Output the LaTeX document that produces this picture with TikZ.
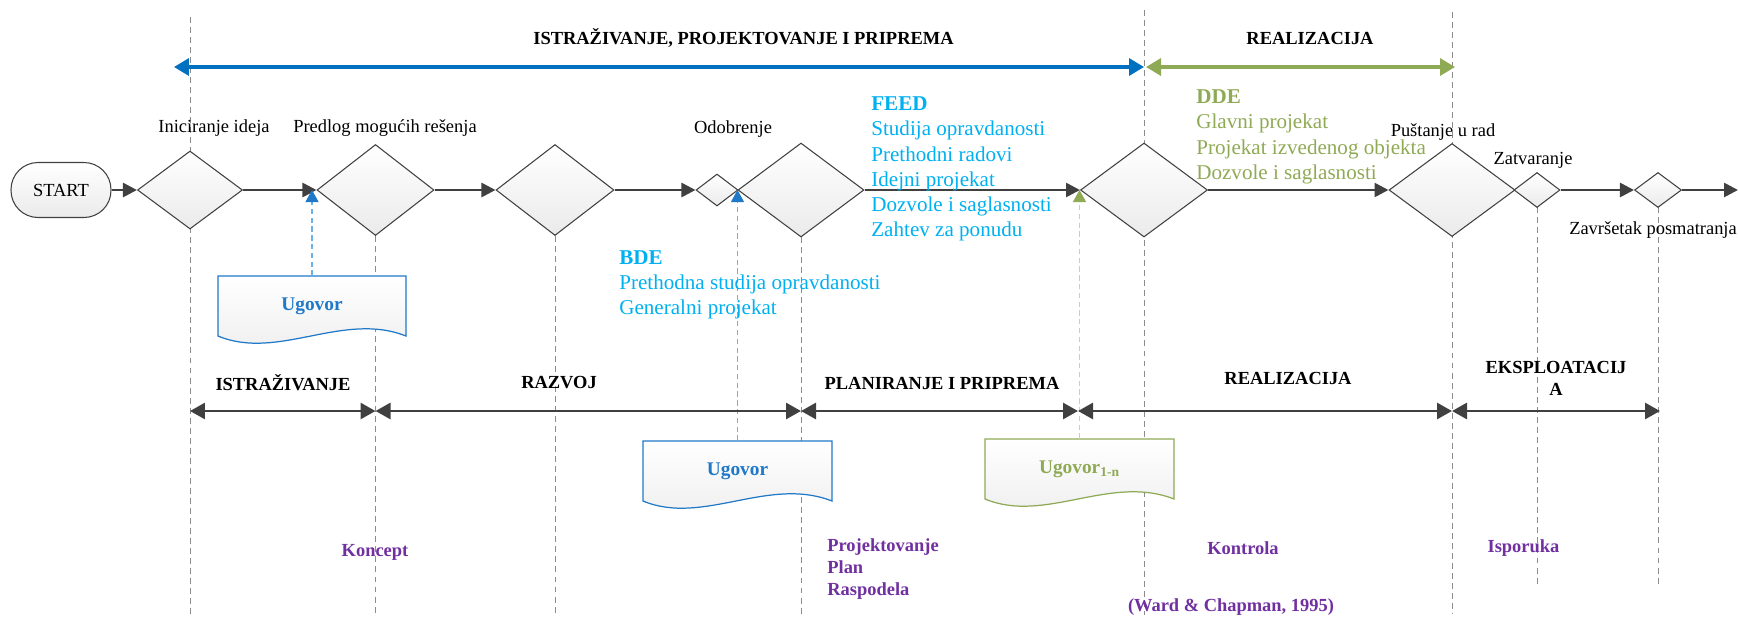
\documentclass[tikz,border=0pt]{standalone}
\usepackage{fontspec}
\setmainfont{Liberation Serif}
\usetikzlibrary{shapes.geometric,arrows.meta}
\definecolor{flowgray}{HTML}{404040}
\definecolor{guidegray}{HTML}{8C8C8C}
\definecolor{phaseblue}{HTML}{0070C0}
\definecolor{docblue}{HTML}{1F78C8}
\definecolor{feedblue}{HTML}{00B0F0}
\definecolor{linkblue}{HTML}{6CB0E8}
\definecolor{ddegreen}{HTML}{8FAA55}
\definecolor{linkgreen}{HTML}{C5D7A0}
\definecolor{notepurple}{HTML}{7030A0}

\begin{document}
\begin{tikzpicture}[x=0.02cm,y=-0.02cm,
  gate/.style={diamond,draw=flowgray,line width=0.6pt,top color=white,bottom color=black!8},
  flow/.style={flowgray,line width=1.5pt,-{Triangle[length=0.28cm,width=0.28cm]}},
  spanarrow/.style={line width=1.9pt,{Triangle[length=0.3cm,width=0.34cm]}-{Triangle[length=0.3cm,width=0.34cm]}},
  phasearrow/.style={flowgray,line width=1.6pt,{Triangle[length=0.3cm,width=0.32cm]}-{Triangle[length=0.3cm,width=0.32cm]}},
  guide/.style={guidegray,line width=0.5pt,dash pattern=on 3.4pt off 2.3pt},
  linkline/.style={line width=0.6pt,dash pattern=on 3pt off 2pt},
  docshape/.style={line width=0.7pt,top color=white,bottom color=black!7},
  docname/.style={minimum width=3.76cm,minimum height=1.2cm,font=\fontsize{11}{13}\selectfont\bfseries},
  lbl/.style={font=\fontsize{10.5}{12.6}\selectfont},
  hdr/.style={font=\fontsize{10.5}{12.6}\selectfont\bfseries},
  textlist/.style={font=\fontsize{12}{14.4}\selectfont,align=left,anchor=west},
  note/.style={font=\fontsize{10.5}{12.5}\selectfont\bfseries,text=notepurple,align=left}]
\tikzstyle{every node}+=[inner sep=0pt]
\useasboundingbox (0,0) rectangle (1738,620);
\draw[guide] (190,17) -- (190,615);
\draw[guide] (375.5,236) -- (375.5,615);
\draw[guide] (555,236) -- (555,615);
\draw[guide] (801,237) -- (801,615);
\draw[guide] (1144,10) -- (1144,615);
\draw[guide] (1452,12) -- (1452,613);
\draw[guide] (1537,207) -- (1537,585);
\draw[guide] (1658,207) -- (1658,585);
\coordinate (tp1) at (174,67);
\coordinate (tp2) at (1144,67);
\coordinate (tp3) at (1146,67);
\coordinate (tp4) at (1455,67);
\draw[spanarrow,phaseblue] (tp1) -- (tp2);
\draw[spanarrow,ddegreen] (tp3) -- (tp4);
\node[hdr] (topistr) at (743.5,38) {ISTRAŽIVANJE, PROJEKTOVANJE I PRIPREMA};
\node[hdr] (topreal) at (1310,38) {REALIZACIJA};
\node[draw=flowgray,line width=0.6pt,rounded corners=0.54cm,minimum width=2cm,minimum height=1.1cm,top color=white,bottom color=black!8,lbl] (start) at (61,190) {START};
\node[gate,minimum width=2.1cm,minimum height=1.56cm] (d1) at (190,190) {};
\node[gate,minimum width=2.34cm,minimum height=1.82cm] (d2) at (375.5,190) {};
\node[gate,minimum width=2.36cm,minimum height=1.82cm] (d3) at (555,190) {};
\node[gate,minimum width=0.84cm,minimum height=0.64cm] (odob) at (717,190) {};
\node[gate,minimum width=2.52cm,minimum height=1.88cm] (d4) at (801,190) {};
\node[gate,minimum width=2.54cm,minimum height=1.88cm] (d5) at (1144,190) {};
\node[gate,minimum width=2.52cm,minimum height=1.86cm] (d6) at (1452,190) {};
\node[gate,minimum width=0.92cm,minimum height=0.7cm] (d7) at (1537,190) {};
\node[gate,minimum width=0.94cm,minimum height=0.7cm] (d8) at (1658,190) {};
\coordinate (flowend) at (1738,190);
\draw[flow] (start) -- (d1);
\draw[flow] (d1) -- (d2);
\draw[flow] (d2) -- (d3);
\draw[flow] (d3) -- (odob);
\draw[flow] (d4) -- (d5);
\draw[flow] (d5) -- (d6);
\draw[flow] (d7) -- (d8);
\draw[flow] (d8) -- (flowend);
\draw[docshape,docblue,shift={(218,276)}] (0,0) -- (188,0) -- (188,60) .. controls (125,35) and (60,85) .. (0,60) -- cycle;
\draw[docshape,docblue,shift={(643,441)}] (0,0) -- (189,0) -- (189,60) .. controls (125,35) and (60,85) .. (0,60) -- cycle;
\draw[docshape,ddegreen,shift={(985,439)}] (0,0) -- (189,0) -- (189,60) .. controls (125,35) and (60,85) .. (0,60) -- cycle;
\node[docname,text=docblue] (ug1) at (312,306) {Ugovor};
\node[docname,text=docblue] (ug2) at (737.5,471) {Ugovor};
\node[docname,text=ddegreen] (ug3) at (1079.5,469) {Ugovor\textsubscript{1-n}};
\draw[linkline,linkblue,-{Triangle[length=0.24cm,width=0.26cm,color=docblue]}] (ug1.north) -- (ug1.north |- d1.east);
\draw[linkline,linkblue,-{Triangle[length=0.24cm,width=0.26cm,color=docblue]}] (ug2.north) -- (ug2.north |- odob.east);
\draw[linkline,linkgreen,-{Triangle[length=0.24cm,width=0.26cm,color=ddegreen]}] (ug3.north) -- (ug3.north |- d5.west);
\node[lbl] (inic) at (214,128) {Iniciranje ideja};
\node[lbl] (predlog) at (385,128) {Predlog mogućih rešenja};
\node[lbl] (odobr) at (733,129) {Odobrenje};
\node[lbl] (pustanje) at (1443,132) {Puštanje u rad};
\node[lbl] (zatv) at (1533,160) {Zatvaranje};
\node[lbl] (zavrs) at (1653,230) {Završetak posmatranja};
\node[textlist,text=feedblue] (feed) at (871,169) {\textbf{FEED}\\Studija opravdanosti\\Prethodni radovi\\Idejni projekat\\Dozvole i saglasnosti\\Zahtev za ponudu};
\node[textlist,text=feedblue] (bde) at (619,285) {\textbf{BDE}\\Prethodna studija opravdanosti\\Generalni projekat};
\node[textlist,text=ddegreen] (dde) at (1196,137) {\textbf{DDE}\\Glavni projekat\\Projekat izvedenog objekta\\Dozvole i saglasnosti};
\coordinate (ph1) at (190,411);
\coordinate (ph2) at (375.5,411);
\coordinate (ph3) at (801,411);
\coordinate (ph4) at (1078,411);
\coordinate (ph5) at (1452,411);
\coordinate (ph6) at (1660,411);
\draw[phasearrow] (ph1) -- (ph2);
\draw[phasearrow] (ph2) -- (ph3);
\draw[phasearrow] (ph3) -- (ph4);
\draw[phasearrow] (ph4) -- (ph5);
\draw[phasearrow] (ph5) -- (ph6);
\node[hdr] (istr) at (283,383) {ISTRAŽIVANJE};
\node[hdr] (razvoj) at (559,383) {RAZVOJ};
\node[hdr] (plan) at (942,383) {PLANIRANJE I PRIPREMA};
\node[hdr] (real) at (1288,378) {REALIZACIJA};
\node[hdr,align=center] (eksp) at (1556,378) {EKSPLOATACIJ\\A};
\node[note] (koncept) at (375,552) {Koncept};
\node[note,anchor=west] (projekt) at (827,569) {Projektovanje\\Plan\\Raspodela};
\node[note] (kontrola) at (1243,548) {Kontrola};
\node[note] (isporuka) at (1523.5,548) {Isporuka};
\node[note] (izvor) at (1231,607) {(Ward \& Chapman, 1995)};
\end{tikzpicture}
\end{document}
